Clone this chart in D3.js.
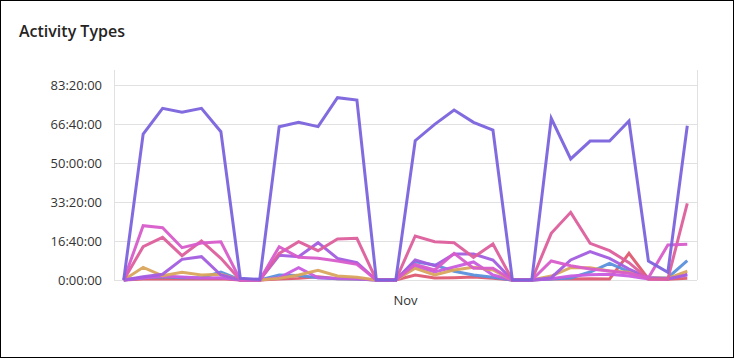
<!DOCTYPE html>
<html><head><meta charset="utf-8">
<script src="https://cdn.jsdelivr.net/npm/d3@7"></script>
<style>
html,body{margin:0;padding:0;background:#fff;}
svg{display:block;}
</style></head>
<body>
<svg id="chart" width="734" height="358"></svg>
<script>
// Days of November (1..30)
const days = d3.range(1, 31).map(d => "Nov " + d);
const yTicks = [0, 60000, 120000, 180000, 240000, 300000];

// Values in seconds per day
const seriesA = [0,224600,264100,258000,264100,228200,2600,1000,235900,242600,235900,280500,276900,0,0,214300,239500,261500,242600,230800,0,0,248700,186200,213800,213800,244600,29200,11800,237400];
const seriesB = [0,83500,80500,49700,56900,58900,0,0,51300,34900,33300,29200,24100,0,0,24100,15400,41000,18000,18000,0,0,29200,22000,16900,13800,10300,3500,53800,54900];
const seriesC = [0,51300,65600,37400,60000,33300,0,0,41000,58900,45100,63100,64100,0,0,67700,58900,57400,34900,55400,0,0,71800,104100,56400,45100,26600,1500,1500,118000];
const seriesD = [0,5000,8800,31800,35900,7700,0,0,38000,35900,57400,33300,26600,0,0,30800,22000,40000,40000,30800,0,0,3500,30800,43600,33300,16900,3500,2000,7700];
const seriesE = [0,19500,6500,11800,7700,8800,0,0,2500,7700,14900,6100,4100,0,0,18000,7700,15400,19500,15400,0,0,6100,19000,19000,13800,11800,3500,2600,13800];
const seriesF = [0,3500,5000,3500,3500,12300,0,0,7700,7000,3500,2000,1500,0,0,28000,23000,13500,7700,4100,0,0,1500,3000,12300,25600,12800,3000,3500,29700];
const seriesG = [0,1500,2000,1500,1500,2000,0,0,1500,2500,5000,2000,1500,0,0,7700,3000,3500,4500,2500,0,0,1500,1500,2000,1500,41000,1500,1000,2500];
const seriesH = [0,3000,6000,4500,3000,3500,0,0,3500,19000,3500,2500,2000,0,0,21500,12300,20000,27700,7700,0,0,2000,6000,8000,9000,6000,1500,1500,9000];

const series = [
  {name: "G", values: seriesG, color: "#de5a70"},
  {name: "F", values: seriesF, color: "#5a90dc"},
  {name: "H", values: seriesH, color: "#c95ce0"},
  {name: "E", values: seriesE, color: "#d9a55c"},
  {name: "D", values: seriesD, color: "#a35de0"},
  {name: "C", values: seriesC, color: "#dd5f9c"},
  {name: "B", values: seriesB, color: "#d85ccb"},
  {name: "A", values: seriesA, color: "#7b63dd"}
];

function fmt(s){
  const h = Math.floor(s/3600), m = Math.floor((s%3600)/60), sec = s%60;
  return h + ":" + String(m).padStart(2,"0") + ":" + String(sec).padStart(2,"0");
}

const svg = d3.select("#chart");
svg.append("rect").attr("x",0.5).attr("y",0.5).attr("width",733).attr("height",357)
  .attr("fill","#fff").attr("stroke","#000").attr("stroke-width",1);

svg.append("text").attr("x",19).attr("y",37)
  .attr("font-family","'Open Sans', 'Noto Sans', sans-serif").attr("font-size",16).attr("font-weight",600)
  .attr("fill","#252423").text("Activity Types");

const pLeft = 114, pRight = 697, pTop = 70, pBottom = 280;
const x = d3.scalePoint().domain(days).range([pLeft, pRight]).padding(0.5);
const y = d3.scaleLinear().domain([0, 300000*(pBottom-pTop)/(pBottom-85)]).range([pBottom, pTop]);

// gridlines
const g = svg.append("g");
g.selectAll("line.grid").data(yTicks).join("line")
  .attr("x1", pLeft).attr("x2", pRight)
  .attr("y1", d => y(d)+0.5).attr("y2", d => y(d)+0.5)
  .attr("stroke", "#e1e1e1").attr("stroke-width",1);
g.append("line").attr("x1",pLeft+0.5).attr("x2",pLeft+0.5).attr("y1",pTop).attr("y2",pBottom)
  .attr("stroke","#e1e1e1");
g.append("line").attr("x1",pRight+0.5).attr("x2",pRight+0.5).attr("y1",pTop).attr("y2",pBottom)
  .attr("stroke","#e1e1e1");

// y axis labels
const yAxis = d3.axisLeft(y).tickValues(yTicks).tickFormat(fmt).tickSize(0).tickPadding(12);
const ya = svg.append("g").attr("transform",`translate(${pLeft},0)`).call(yAxis);
ya.select(".domain").remove();
ya.selectAll("text").attr("font-family","'Open Sans', 'Noto Sans', sans-serif").attr("font-size",13).attr("fill","#333");

// x label
const mid = (x(days[0]) + x(days[days.length-1]))/2;
svg.append("text").attr("x", mid).attr("y", 305).attr("text-anchor","middle")
  .attr("font-family","'Open Sans', 'Noto Sans', sans-serif").attr("font-size",13).attr("fill","#333").text("Nov");

const line = d3.line().x((d,i) => x(days[i])).y(d => y(d));
svg.append("g").selectAll("path").data(series).join("path")
  .attr("d", d => line(d.values))
  .attr("fill","none").attr("stroke", d => d.color).attr("stroke-width",3)
  .attr("stroke-linejoin","miter").attr("stroke-opacity",0.95);
</script>
</body></html>
